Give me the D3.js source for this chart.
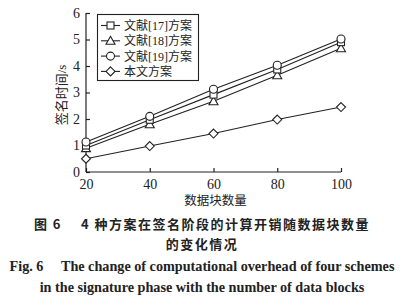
<!DOCTYPE html>
<html><head><meta charset="utf-8">
<script src="https://cdn.jsdelivr.net/npm/d3@7/dist/d3.min.js"></script>
<style>body{margin:0;background:#fff}svg{display:block}</style>
</head><body>
<svg id="c" width="416" height="306"></svg>
<script>
const xValues = [20, 40, 60, 80, 100];
const seriesNames = ["文献[17]方案", "文献[18]方案", "文献[19]方案", "本文方案"];
const seriesMarkers = ["square", "triangle", "circle", "diamond"];
const s17 = [1.0, 1.97, 2.92, 3.87, 4.9];
const s18 = [0.9, 1.8, 2.67, 3.65, 4.67];
const s19 = [1.13, 2.1, 3.12, 4.03, 5.02];
const sOurs = [0.5, 0.98, 1.45, 1.98, 2.45];
const yTicks = [0, 1, 2, 3, 4, 5, 6];
const xLabel = "数据块数量";
const yLabel = "签名时间/s";
const captionLines = ["图 6\u2003 4 种方案在签名阶段的计算开销随数据块数量", "的变化情况"];
const captionEnLines = ["Fig. 6\u2003 The change of computational overhead of four schemes", "in the signature phase with the number of data blocks"];

const svg = d3.select("#c");
const m = {l: 86, r: 341, t: 13, b: 172};
const x = d3.scaleLinear().domain([20, 100]).range([m.l, m.r]);
const y = d3.scaleLinear().domain([0, 6]).range([m.b, m.t]);
const ink = "#222";
const serif = "'Liberation Serif','Times New Roman',serif";
const cjk = "'Noto Sans CJK SC',sans-serif";
const mixed = "'Liberation Serif','Noto Sans CJK SC',serif";

// axes
const xa = svg.append("g").attr("transform", `translate(0,${m.b})`)
  .call(d3.axisBottom(x).tickValues(xValues).tickFormat(d3.format("d")).tickSizeInner(-4).tickSizeOuter(0).tickPadding(7));
const ya = svg.append("g").attr("transform", `translate(${m.l},0)`)
  .call(d3.axisLeft(y).tickValues(yTicks).tickFormat(d3.format("d")).tickSizeInner(-4).tickSizeOuter(0).tickPadding(6));
[xa, ya].forEach(a => {
  a.selectAll("path,line").attr("stroke", ink).attr("stroke-width", 1.2);
  a.selectAll("text").attr("fill", ink).attr("font-family", serif).attr("font-size", 14);
});
ya.select(".domain").attr("d", `M0,${y(6)}V${m.b}`);
xa.select(".domain").attr("d", `M${m.l},0H${m.r}`);

// axis titles
svg.append("text").attr("x", x(60) + 2).attr("y", 205).attr("text-anchor", "middle")
  .attr("font-family", mixed).attr("font-size", 12.5).attr("fill", ink).text(xLabel);
svg.append("text").attr("transform", `translate(66,95) rotate(-90)`).attr("text-anchor", "middle")
  .attr("font-family", mixed).attr("font-size", 13).attr("fill", ink).text(yLabel);

// markers
function drawMarker(g, type, cx, cy) {
  const st = {fill: "#fff", stroke: ink, "stroke-width": 1.1};
  let el;
  if (type === "square") el = g.append("rect").attr("x", cx - 3.5).attr("y", cy - 3.5).attr("width", 7).attr("height", 7);
  else if (type === "circle") el = g.append("circle").attr("cx", cx).attr("cy", cy).attr("r", 4);
  else if (type === "triangle") el = g.append("path").attr("d", `M${cx},${cy - 4.5}L${cx + 4.5},${cy + 3.5}L${cx - 4.5},${cy + 3.5}Z`);
  else el = g.append("path").attr("d", `M${cx},${cy - 4.5}L${cx + 4.5},${cy}L${cx},${cy + 4.5}L${cx - 4.5},${cy}Z`);
  Object.entries(st).forEach(([k, v]) => el.attr(k, v));
}

const allSeries = [s17, s18, s19, sOurs];
const line = d3.line().x((d, i) => x(xValues[i])).y(d => y(d));
const plot = svg.append("g");
allSeries.forEach((s, k) => {
  plot.append("path").attr("d", line(s)).attr("fill", "none").attr("stroke", ink).attr("stroke-width", 1.1);
});
[3, 1, 0, 2].forEach(k => {
  allSeries[k].forEach((v, i) => drawMarker(plot, seriesMarkers[k], x(xValues[i]), y(v)));
});

// legend
const lg = svg.append("g");
lg.append("rect").attr("x", 97.5).attr("y", 14.5).attr("width", 101).attr("height", 66)
  .attr("fill", "#fff").attr("stroke", ink).attr("stroke-width", 1.1);
seriesNames.forEach((n, k) => {
  const ry = 25.5 + k * 15.3;
  lg.append("line").attr("x1", 101).attr("x2", 120).attr("y1", ry).attr("y2", ry).attr("stroke", ink).attr("stroke-width", 1.1);
  drawMarker(lg, seriesMarkers[k], 110.5, ry);
  lg.append("text").attr("x", 124).attr("y", ry + 4.5).attr("font-family", mixed)
    .attr("font-size", 12).attr("fill", ink).text(n);
});

// captions
captionLines.forEach((t, i) => {
  svg.append("text").attr("x", 202).attr("y", 229 + i * 20).attr("text-anchor", "middle")
    .attr("font-family", cjk).attr("font-weight", "bold").attr("font-size", 13).attr("fill", ink)
    .attr("letter-spacing", 1.5).text(t);
});
captionEnLines.forEach((t, i) => {
  svg.append("text").attr("x", 202).attr("y", 271 + i * 21).attr("text-anchor", "middle")
    .attr("font-family", serif).attr("font-weight", "bold").attr("font-size", 14.2).attr("fill", ink)
    .text(t);
});
</script>
</body></html>
